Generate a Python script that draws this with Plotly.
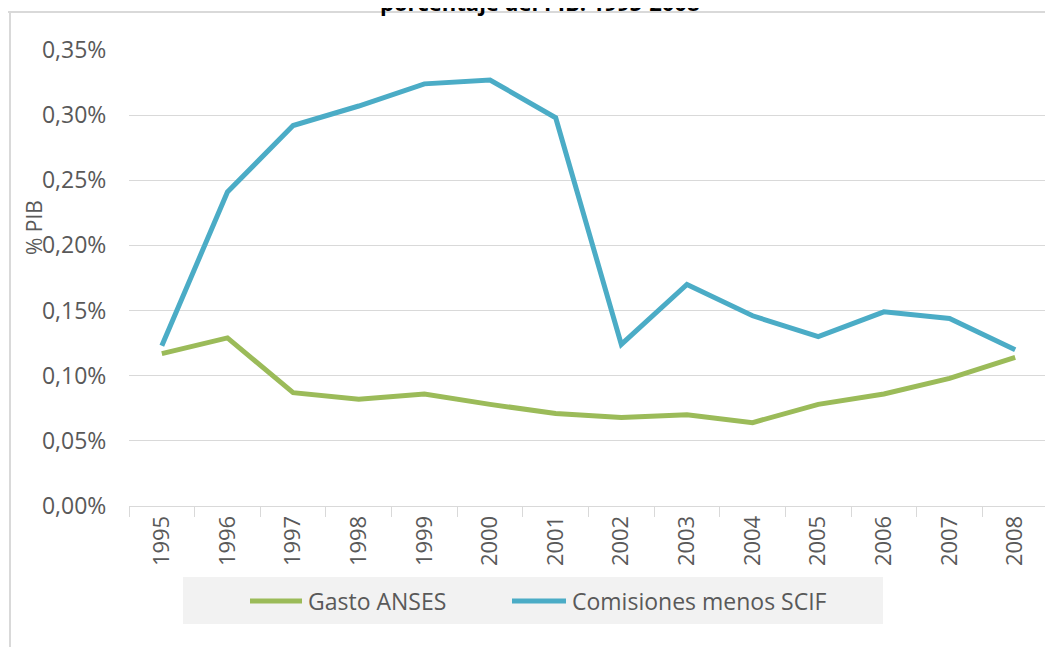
import plotly.graph_objects as go

years = [str(y) for y in range(1995, 2009)]
gasto_anses = [0.117, 0.129, 0.087, 0.082, 0.086, 0.078, 0.071, 0.068, 0.070, 0.064, 0.078, 0.086, 0.098, 0.114]
comisiones = [0.123, 0.241, 0.292, 0.307, 0.324, 0.327, 0.298, 0.124, 0.170, 0.146, 0.130, 0.149, 0.144, 0.120]
y_ticks = [0, 0.05, 0.10, 0.15, 0.20, 0.25, 0.30, 0.35]
y_tick_text = ["0,00%", "0,05%", "0,10%", "0,15%", "0,20%", "0,25%", "0,30%", "0,35%"]

GREEN = "#9BBB59"
BLUE = "#4BACC6"
GRID = "#D9D9D9"
TXT = "#595959"

OFF = 8  # page body margin
W, H = 1053 - OFF, 647 - OFF
L, R, T, B = 121, 5, 42, 141
PW, PH = W - L - R, H - T - B


def px(x):
    return (x - OFF - L) / PW


def py(y):
    return (H - B - (y - OFF)) / PH


fig = go.Figure()
fig.add_trace(go.Scatter(x=years, y=gasto_anses, mode="lines", name="Gasto ANSES",
                         line=dict(color=GREEN, width=5)))
fig.add_trace(go.Scatter(x=years, y=comisiones, mode="lines", name="Comisiones menos SCIF",
                         line=dict(color=BLUE, width=5)))

fig.update_layout(
    width=W, height=H,
    margin=dict(l=L, r=R, t=T, b=B, autoexpand=False),
    paper_bgcolor="white", plot_bgcolor="white",
    font=dict(family="Open Sans", color=TXT, size=22),
    showlegend=False,
    xaxis=dict(type="category", showgrid=False, showline=True, linecolor=GRID, linewidth=1,
               ticks="outside", tickson="boundaries", ticklen=10, tickcolor=GRID,
               tickangle=-90, tickfont=dict(size=22, color=TXT), range=[-0.5, 13.5],
               automargin=False),
    yaxis=dict(range=[0, 0.35], tickvals=y_ticks, ticktext=y_tick_text, showgrid=True,
               gridcolor=GRID, gridwidth=1, zeroline=False, showline=False,
               ticks="outside", ticklen=17, tickcolor="rgba(0,0,0,0)",
               tickfont=dict(size=23, color=TXT), automargin=False),
    annotations=[
        dict(text="% PIB", textangle=-90, xref="paper", yref="paper", x=px(34), y=py(228),
             showarrow=False, font=dict(size=21, color=TXT), xanchor="center", yanchor="middle"),
        dict(text="<b>porcentaje del PIB. 1995-2008</b>", xref="paper", yref="paper",
             x=px(540), y=py(19), showarrow=False, font=dict(size=22, color="#000000"),
             xanchor="center", yanchor="bottom"),
        dict(text="Gasto ANSES", xref="paper", yref="paper", x=px(306), y=py(601),
             showarrow=False, font=dict(size=23, color=TXT), xanchor="left", yanchor="middle"),
        dict(text="Comisiones menos SCIF", xref="paper", yref="paper", x=px(570), y=py(601),
             showarrow=False, font=dict(size=23, color=TXT), xanchor="left", yanchor="middle"),
    ],
    shapes=[
        dict(type="line", xref="paper", yref="paper", x0=px(0), x1=px(1053), y0=py(12), y1=py(12),
             line=dict(color=GRID, width=2), layer="below"),
        dict(type="line", xref="paper", yref="paper", x0=px(10), x1=px(10), y0=py(12), y1=py(647),
             line=dict(color=GRID, width=2), layer="below"),
        dict(type="rect", xref="paper", yref="paper", x0=px(183), x1=px(883), y0=py(624), y1=py(577),
             fillcolor="#F2F2F2", line=dict(width=0), layer="below"),
        dict(type="line", xref="paper", yref="paper", x0=px(250), x1=px(302), y0=py(601), y1=py(601),
             line=dict(color=GREEN, width=5)),
        dict(type="line", xref="paper", yref="paper", x0=px(512), x1=px(566), y0=py(601), y1=py(601),
             line=dict(color=BLUE, width=5)),
    ],
)

fig.write_html("out.html")
